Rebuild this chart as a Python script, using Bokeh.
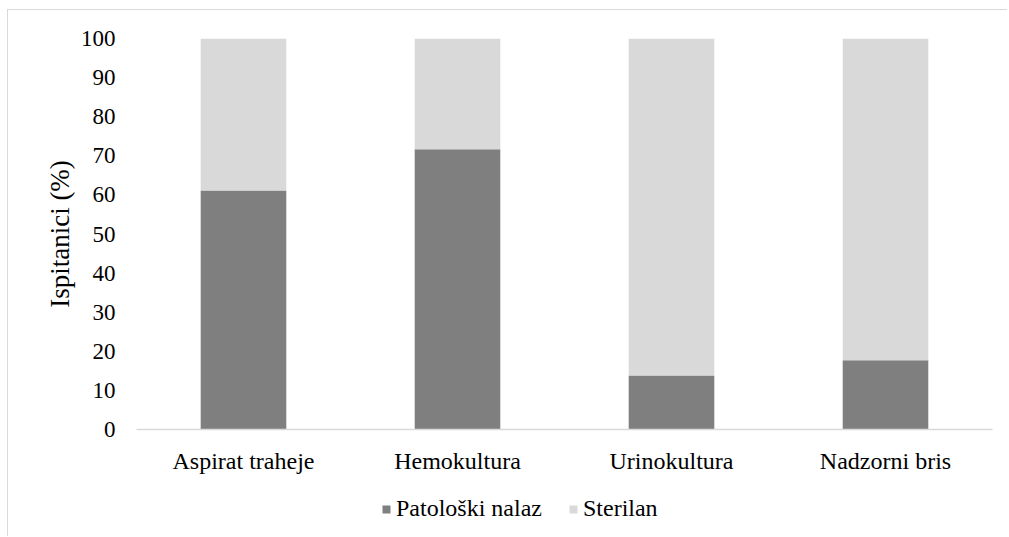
from bokeh.plotting import figure
from bokeh.layouts import column
from bokeh.models import ColumnDataSource, FactorRange, Range1d, Legend, LegendItem, FixedTicker
from bokeh.embed import file_html
from bokeh.resources import INLINE

categories = ["Aspirat traheje", "Hemokultura", "Urinokultura", "Nadzorni bris"]
patoloski = [61.1, 71.7, 13.8, 17.7]
sterilan = [round(100 - v, 1) for v in patoloski]
series = ["Patološki nalaz", "Sterilan"]
colors = ["#7f7f7f", "#d9d9d9"]
y_ticks = list(range(0, 101, 10))

source = ColumnDataSource(data={"cat": categories, "Patološki nalaz": patoloski, "Sterilan": sterilan})

FONT = "Liberation Serif"

p = figure(width=999, height=480, output_backend="svg", toolbar_location=None,
           x_range=FactorRange(factors=categories, range_padding=0),
           y_range=Range1d(0, 100),
           min_border_left=128, min_border_right=15, min_border_top=28, min_border_bottom=61)

p.vbar_stack(series, x="cat", width=0.4, source=source, color=colors, line_color=None)

p.outline_line_color = None
p.xgrid.grid_line_color = None
p.ygrid.grid_line_color = None

p.yaxis.ticker = FixedTicker(ticks=y_ticks)
p.yaxis.axis_line_color = None
p.yaxis.major_tick_line_color = None
p.yaxis.minor_tick_line_color = None
p.yaxis.major_label_standoff = 15
p.yaxis.major_label_text_font = FONT
p.yaxis.major_label_text_font_size = "23px"
p.yaxis.major_label_text_color = "#000000"
p.yaxis.axis_label = "Ispitanici (%)"
p.yaxis.axis_label_text_font = FONT
p.yaxis.axis_label_text_font_size = "27px"
p.yaxis.axis_label_text_font_style = "normal"
p.yaxis.axis_label_text_color = "#000000"
p.yaxis.axis_label_standoff = 3

p.xaxis.axis_line_color = "#d9d9d9"
p.xaxis.axis_line_width = 1.5
p.xaxis.major_tick_line_color = None
p.xaxis.minor_tick_line_color = None
p.xaxis.major_label_standoff = 12
p.xaxis.major_label_text_font = FONT
p.xaxis.major_label_text_font_size = "24px"
p.xaxis.major_label_text_color = "#000000"

# legend strip: same stacked bars, kept out of view, only used for the legend glyphs
lg = figure(width=999, height=46, output_backend="svg", toolbar_location=None,
            x_range=FactorRange(factors=categories, range_padding=0), y_range=Range1d(200, 300),
            min_border=0, min_border_left=128, min_border_right=15, min_border_top=0, min_border_bottom=0)
lg.axis.visible = False
lg.grid.visible = False
lg.outline_line_color = None
lg.background_fill_color = None
lg.border_fill_color = None
hidden = lg.vbar_stack(series, x="cat", width=0.4, source=source, color=colors, line_color=None)
legend = Legend(items=[LegendItem(label=s, renderers=[r]) for s, r in zip(series, hidden)],
                orientation="horizontal", location=(245, 14),
                glyph_width=10, glyph_height=10, label_text_font=FONT,
                label_text_font_size="24px", label_text_color="#000000",
                border_line_color=None, background_fill_alpha=0, spacing=26,
                label_standoff=5, margin=0, padding=0)
lg.add_layout(legend, "center")

layout = column(p, lg, spacing=0,
                styles={"border-top": "1px solid #d9d9d9", "border-left": "1px solid #d9d9d9",
                        "margin-top": "9px", "margin-left": "7px"})

open("out.html", "w").write(file_html(layout, INLINE))
